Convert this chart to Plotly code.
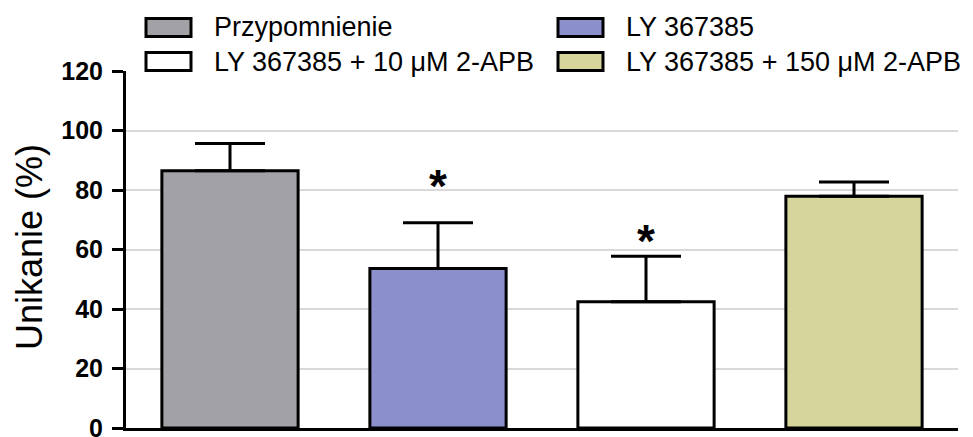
import plotly.graph_objects as go

# ---- data ----
categories = ["Przypomnienie", "LY 367385", "LY 367385 + 10 μM 2-APB", "LY 367385 + 150 μM 2-APB"]
means = [86.5, 53.6, 42.4, 77.9]
sem = [9.1, 15.4, 15.3, 4.8]
sig_labels = ["", "*", "*", ""]
sig_y = [None, 84.5, 66.0, None]
colors = ["#a2a1a6", "#8b90cd", "#ffffff", "#d6d59b"]
y_ticks = [0, 20, 40, 60, 80, 100, 120]

FONT = "Liberation Sans, Arial, sans-serif"

# page body margin offset (the figure is drawn 8px in from the page corner)
OFF = 8
FIG_W, FIG_H = 973 - OFF, 437 - OFF
M_L, M_R, M_T, M_B = 126 - OFF, 15, 71 - OFF, 9

fig = go.Figure()
x_idx = list(range(len(categories)))
fig.add_trace(go.Bar(
    x=x_idx, y=means,
    width=0.655,
    marker=dict(color=colors, line=dict(color="black", width=3)),
    error_y=dict(type="data", symmetric=False, array=sem, arrayminus=[0] * len(sem),
                 color="black", thickness=3, width=35),
    showlegend=False,
))

# significance asterisks
for i, (lab, yv) in enumerate(zip(sig_labels, sig_y)):
    if lab:
        fig.add_annotation(x=i, y=yv, xref="x", yref="y", text=lab, showarrow=False,
                           font=dict(family=FONT, size=46, color="black", weight="bold"),
                           yanchor="middle", yshift=-9)

# custom legend (2 x 2 grid), positions given in page pixels
W_PLOT = FIG_W - M_L - M_R
H_PLOT = FIG_H - M_T - M_B
def px_x(px):
    return (px - OFF - M_L) / W_PLOT
def px_y(py):
    return (FIG_H - M_B - (py - OFF)) / H_PLOT

legend_cols = [146, 558]
legend_rows = [27.5, 61.5]
for k, (name, col) in enumerate(zip(categories, colors)):
    r, c = divmod(k, 2)
    x0 = legend_cols[c]
    yc = legend_rows[r]
    fig.add_shape(type="rect", xref="paper", yref="paper",
                  x0=px_x(x0), x1=px_x(x0 + 45), y0=px_y(yc + 9), y1=px_y(yc - 9),
                  fillcolor=col, line=dict(color="black", width=3))
    fig.add_annotation(xref="paper", yref="paper", x=px_x(x0 + 66), y=px_y(yc),
                       xanchor="left", yanchor="middle", text=name, showarrow=False,
                       font=dict(family=FONT, size=27, color="black"))

# y-axis title
fig.add_annotation(xref="paper", yref="paper", x=px_x(29), y=px_y(247),
                   text="Unikanie (%)", textangle=-90, showarrow=False,
                   xanchor="center", yanchor="middle",
                   font=dict(family=FONT, size=36, color="black"))

fig.update_layout(
    width=FIG_W, height=FIG_H,
    margin=dict(l=M_L, r=M_R, t=M_T, b=M_B, autoexpand=False),
    plot_bgcolor="white", paper_bgcolor="white",
    showlegend=False,
    xaxis=dict(range=[-0.5, 3.5], showline=True, linecolor="black", linewidth=3,
               showticklabels=False, ticks="", showgrid=False, zeroline=False,
               automargin=False),
    yaxis=dict(range=[0, 120], tickvals=y_ticks, showline=True, linecolor="black",
               linewidth=3, ticks="outside", ticklen=11, tickwidth=3, tickcolor="black",
               showgrid=True, gridcolor="#d9d9d9", gridwidth=1.5, zeroline=False,
               ticklabeloverflow="allow", ticklabelstandoff=4, automargin=False,
               tickfont=dict(family=FONT, size=25, color="black", weight="bold")),
)

fig.write_html("out.html")
